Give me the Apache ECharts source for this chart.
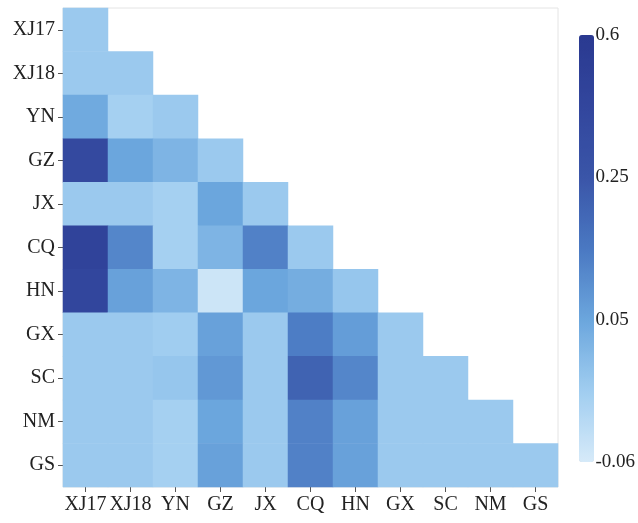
<!DOCTYPE html>
<html>
<head>
<meta charset="utf-8">
<script src="https://cdn.jsdelivr.net/npm/echarts@6/dist/echarts.min.js"></script>
<style>
  html, body { margin: 0; padding: 0; background: #fff; }
  #chart { width: 638px; height: 523px; }
</style>
</head>
<body>
<div id="chart"></div>
<script>
var regions = ['XJ17', 'XJ18', 'YN', 'GZ', 'JX', 'CQ', 'HN', 'GX', 'SC', 'NM', 'GS'];

// lower triangle, row by row (row i has i+1 values)
var corr = [
  [0],
  [0, 0],
  [0.045, -0.01, 0],
  [0.39, 0.05, 0.03, 0],
  [0, 0, -0.01, 0.05, 0],
  [0.46, 0.12, -0.01, 0.03, 0.13, 0],
  [0.42, 0.06, 0.03, -0.05, 0.05, 0.04, 0.005],
  [0, 0, -0.005, 0.06, 0, 0.14, 0.07, 0],
  [0, 0, 0.005, 0.08, 0, 0.21, 0.12, 0, 0],
  [0, 0, -0.01, 0.05, 0, 0.13, 0.06, 0, 0, 0],
  [0, 0, -0.01, 0.06, 0, 0.13, 0.06, 0, 0, 0, 0]
];

// colour bar breaks, evenly spaced on the bar
var barTicks = [-0.06, 0.05, 0.25, 0.6];

// value -> position on the colour bar (0..3)
function toPos(v) {
  for (var i = 0; i < barTicks.length - 1; i++) {
    if (v <= barTicks[i + 1] || i == barTicks.length - 2) {
      return i + (v - barTicks[i]) / (barTicks[i + 1] - barTicks[i]);
    }
  }
}

var data = [];
for (var r = 0; r < corr.length; r++) {
  for (var c = 0; c < corr[r].length; c++) {
    data.push([c, r, toPos(corr[r][c]), corr[r][c]]);
  }
}

var font = 'Liberation Serif';
var chart = echarts.init(document.getElementById('chart'));

var option = {
  backgroundColor: '#fff',
  animation: false,
  grid: [
    { left: 63, right: 80, top: 8, bottom: 36, show: true, borderColor: '#e4e4e4', borderWidth: 1 },
    { left: 579, top: 35, width: 15, height: 427 }
  ],
  xAxis: [
    {
      type: 'category', data: regions, gridIndex: 0,
      axisLine: { show: false },
      axisTick: { show: true, alignWithLabel: true, length: 5, lineStyle: { color: '#555' } },
      axisLabel: { fontFamily: font, fontSize: 20, color: '#222', margin: 8, interval: 0 },
      splitLine: { show: false }
    },
    { type: 'value', gridIndex: 1, show: false }
  ],
  yAxis: [
    {
      type: 'category', data: regions, gridIndex: 0, inverse: true,
      axisLine: { show: false },
      axisTick: { show: true, alignWithLabel: true, length: 5, lineStyle: { color: '#555' } },
      axisLabel: { fontFamily: font, fontSize: 20, color: '#222', margin: 8, interval: 0 },
      splitLine: { show: false }
    },
    {
      type: 'value', gridIndex: 1, position: 'right', min: 0, max: 3, interval: 1,
      axisLine: { show: false }, axisTick: { show: false }, splitLine: { show: false },
      axisLabel: {
        fontFamily: font, fontSize: 19, color: '#222', margin: 6,
        formatter: function (v) { return String(barTicks[Math.round(v)]); }
      }
    }
  ],
  visualMap: {
    type: 'continuous',
    dimension: 2,
    seriesIndex: 0,
    min: 0, max: 3,
    calculable: false,
    orient: 'vertical',
    left: 579, top: 35,
    padding: 0,
    itemWidth: 15, itemHeight: 427,
    showLabel: false,
    inRange: {
      color: ['#d6eaf9', '#a0cdf0', '#6ba6dd', '#4a78c2', '#3a55a8', '#32469d', '#2a3990']
    }
  },
  series: [
    {
      type: 'heatmap',
      xAxisIndex: 0, yAxisIndex: 0,
      data: data,
      silent: true,
      itemStyle: { borderWidth: 0 }
    }
  ]
};

chart.setOption(option);
</script>
</body>
</html>
